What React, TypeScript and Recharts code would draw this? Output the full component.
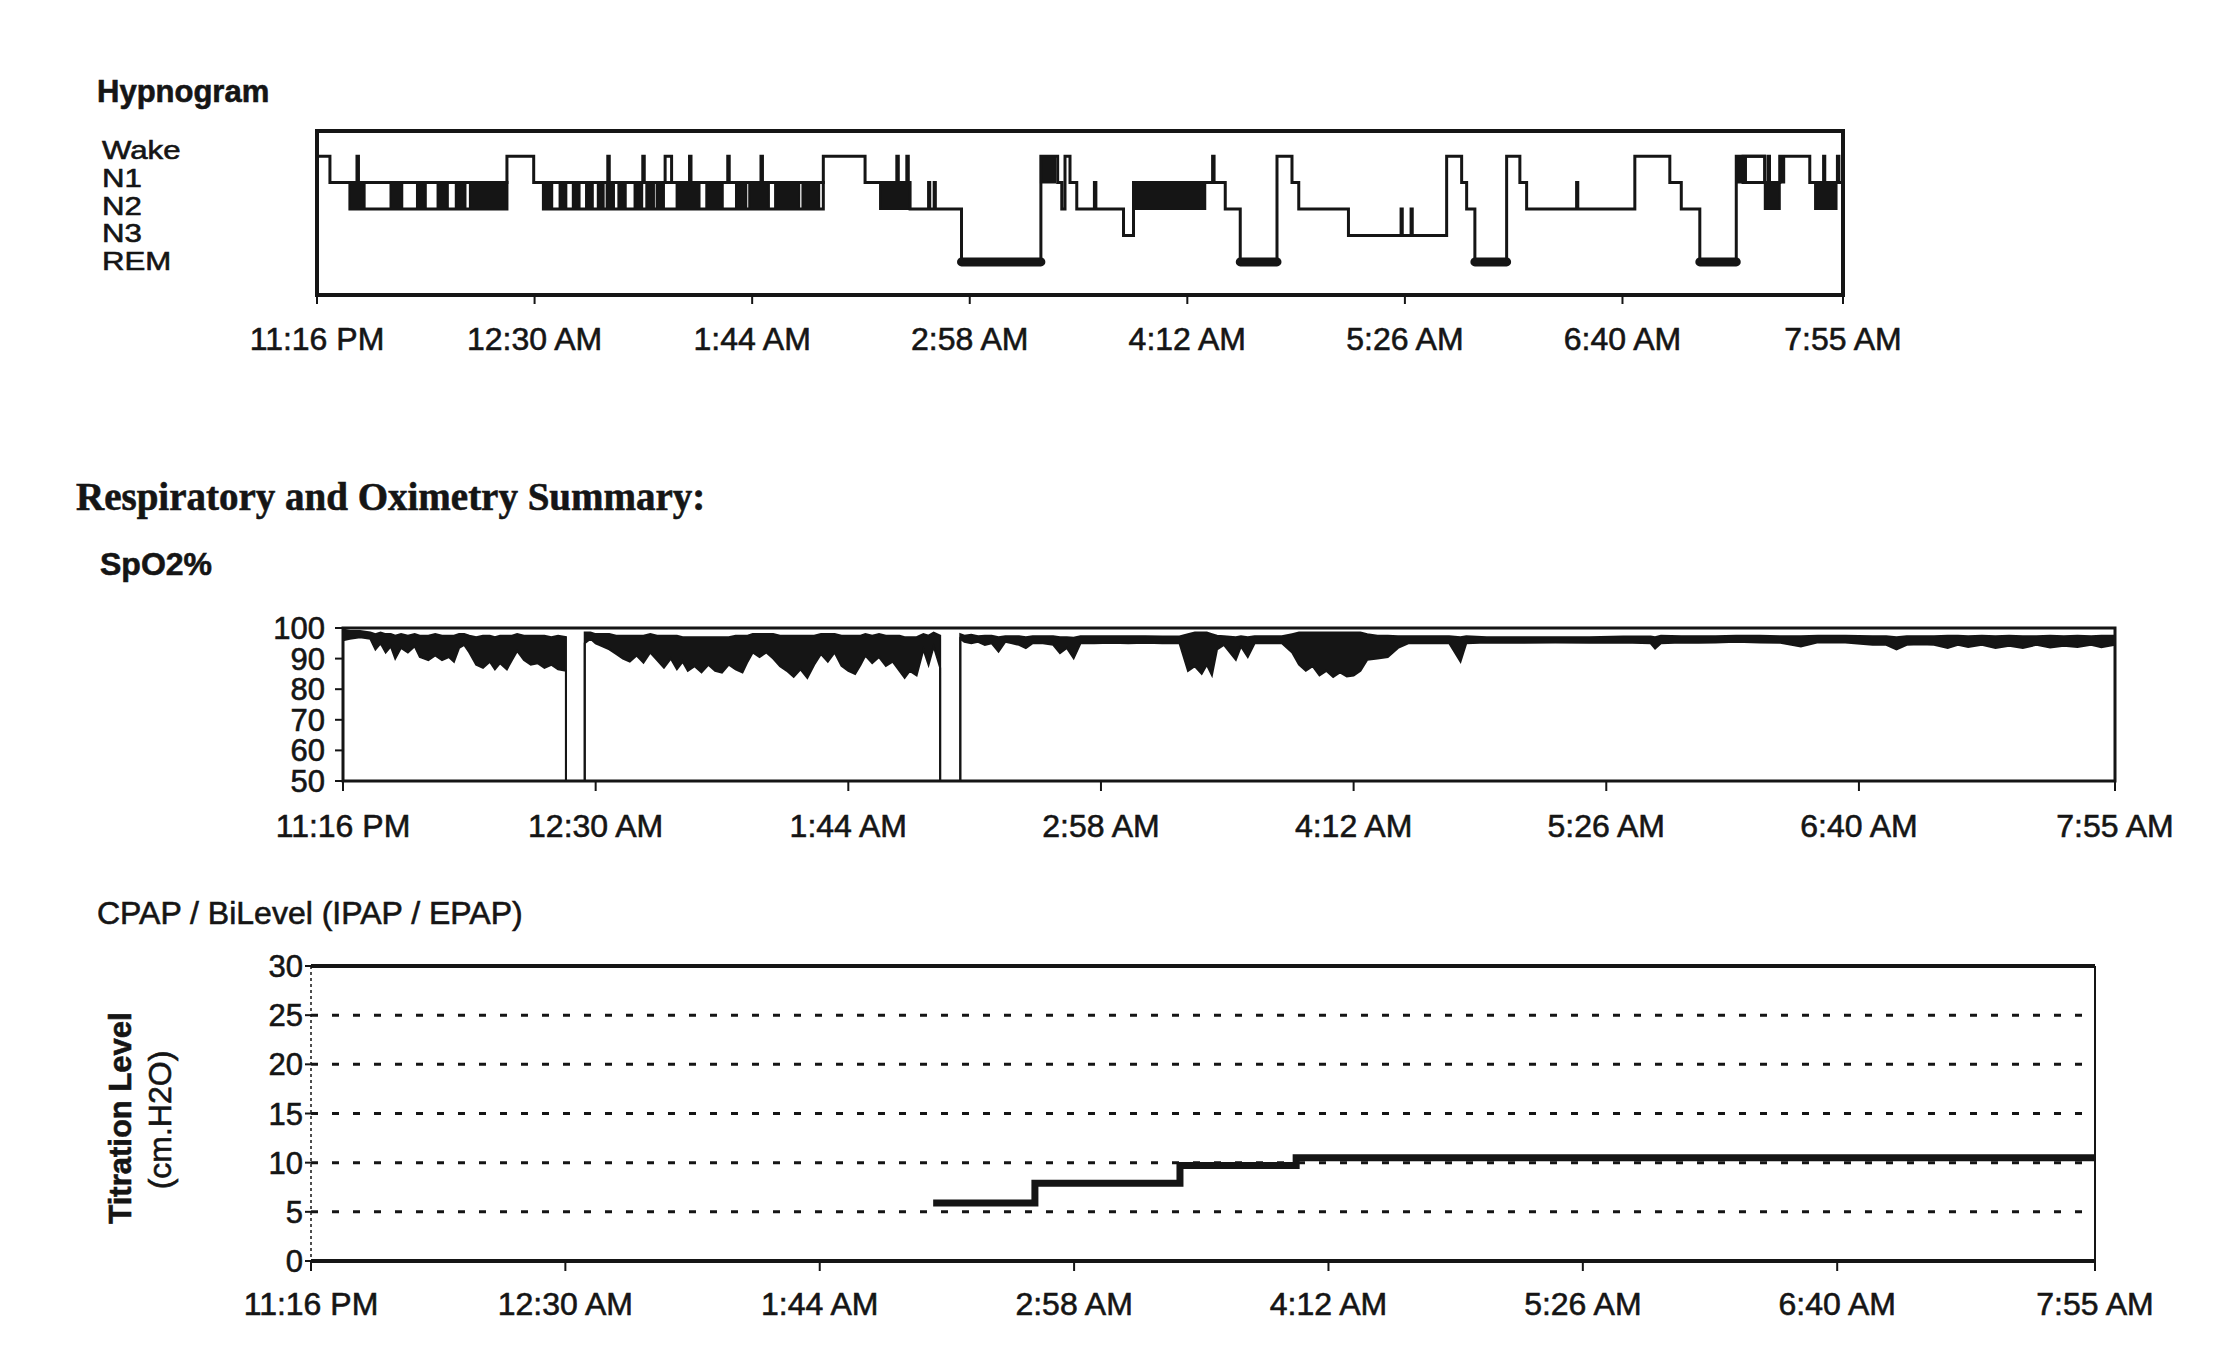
import React from 'react'
import {
  LineChart, ComposedChart, Line, Area, XAxis, YAxis, CartesianGrid, ReferenceArea, ReferenceLine,
} from 'recharts'

// time axis: minutes after 11:16 PM
const timeTicks = [0, 74, 148, 222, 296, 370, 444, 519]
const timeLabels = ['11:16 PM', '12:30 AM', '1:44 AM', '2:58 AM', '4:12 AM', '5:26 AM', '6:40 AM', '7:55 AM']

// stage index 0..4
const stageNames = ['REM', 'N3', 'N2', 'N1', 'Wake']

// [minute, stage] – stage holds until next entry
const hypnoSteps: [number, number][] = [
  [0, 4], [4.4, 3], [13.6, 4], [14.1, 3], [64.6, 4], [73.7, 3], [98.9, 4], [99.4, 3],
  [110.8, 4], [111.3, 3], [118.4, 4], [120.6, 3], [126.7, 4], [127.2, 3], [139.7, 4], [140.2, 3],
  [151.0, 4], [151.5, 3], [172.2, 4], [186.4, 3], [197.2, 4], [197.7, 3], [200.6, 4], [201.1, 3],
  [201.7, 2], [208.0, 3], [208.4, 2], [209.9, 3], [210.3, 2], [219.2, 0], [246.2, 4], [251.9, 3],
  [253.3, 2], [254.4, 4], [256.1, 3], [258.4, 2], [264.4, 3], [264.9, 2], [274.3, 1], [277.7, 3],
  [304.6, 4], [305.1, 3], [308.9, 2], [314.0, 0], [326.5, 4], [331.6, 3], [333.9, 2], [350.8, 1],
  [368.7, 2], [369.1, 1], [372.1, 2], [372.5, 1], [384.2, 4], [389.3, 3], [391.0, 2], [393.8, 0],
  [404.6, 4], [409.1, 3], [411.4, 2], [428.4, 3], [428.8, 2], [448.2, 4], [460.1, 3], [464.0, 2],
  [470.3, 0], [482.7, 4], [492.4, 3], [493.6, 4], [494.0, 3], [497.5, 4], [507.7, 3], [512.4, 4],
  [512.8, 3], [517.1, 4], [517.6, 3], [519, 3],
]

// rapid stage switching drawn as solid blocks [start, end, lowStage, highStage]
const denseBlocks: [number, number, number, number][] = [
  [11.2, 16.2, 2, 3], [25, 29, 2, 3], [34, 37, 2, 3], [41, 44.5, 2, 3], [47.2, 50.5, 2, 3],
  [52, 64.6, 2, 3], [77, 80, 2, 3], [82.5, 84.8, 2, 3], [87, 89.3, 2, 3], [91.5, 93.8, 2, 3],
  [95.5, 97.5, 2, 3], [98.5, 101, 2, 3], [102.5, 105, 2, 3], [108, 110.6, 2, 3], [112, 114.6, 2, 3],
  [115.5, 118, 2, 3], [122.3, 130.1, 2, 3], [132.4, 138, 2, 3], [142.5, 146, 2, 3], [147, 153.7, 2, 3],
  [155.8, 164, 2, 3], [165.1, 170.8, 2, 3], [191.5, 201.7, 2, 3], [246.2, 251, 3, 4], [277.7, 302.1, 2, 3],
  [482.7, 486, 3, 4], [492.4, 497.5, 2, 3], [497.5, 499, 3, 4], [509.5, 516.8, 2, 3],
]

// stretches where both stage edges show as lines
const hollowSpans: [number, number, number, number][] = [
  [11.2, 64.6, 2, 3], [77, 172.2, 2, 3], [485, 492.4, 3, 4],
]

// SpO2: [minute, low, high]; 50 = probe off
const spo2Readings: [number, number, number][] = [
  [0, 96, 99.5], [2, 96.5, 99], [5, 97, 99], [8, 96.5, 98.5], [9.5, 93, 98], [11, 95, 98.5],
  [12.5, 92, 98], [14, 94, 98], [15.3, 90, 97.5], [17, 93.5, 98], [19, 92, 97.5], [21, 94, 98],
  [22.5, 90.5, 97.5], [25, 89.5, 97.5], [27, 91, 98], [29, 89.5, 97.5], [31, 90.5, 97.5], [32.5, 89, 97.5],
  [34, 93.5, 98], [35.5, 94.5, 98], [37, 92, 97.5], [39, 88, 97], [41, 87, 97.5], [43, 89, 97.5],
  [44.5, 86.5, 97], [46, 88.5, 97.5], [48, 86.5, 97.5], [49.5, 89.5, 97.5], [51, 92.5, 98], [53, 89.5, 97.5],
  [55, 88, 97.5], [57, 88.5, 97.5], [59, 87, 97.5], [61, 88, 97], [63, 86.5, 97.5], [65.3, 86, 97],
  [65.3, 50, 50], [70.8, 50, 50],
  [70.8, 95, 98.5], [72.5, 96.5, 98.5], [74, 95, 98], [76, 94, 98], [78, 93, 98], [80, 91.5, 97.5],
  [82, 90, 97.5], [84, 89, 97.5], [86, 91, 97.5], [88, 88.7, 97.5], [90, 92, 98], [92, 89.5, 97.5],
  [94, 87, 97.5], [96, 90, 97.5], [97.8, 86.5, 97.5], [99.5, 89, 97], [101, 86, 97], [103, 87.5, 97],
  [105, 85.5, 97], [107, 88, 97], [109, 86, 97], [111, 85.4, 97], [113, 88, 97], [115, 86.5, 97.5],
  [117, 85.5, 97.5], [118.5, 89, 97.5], [120, 92, 98], [122, 90.5, 98], [124, 92, 98], [126, 90, 98],
  [128, 87.5, 97.5], [130, 86, 97.5], [132, 84, 97.5], [134, 86.5, 97.5], [136, 83.7, 97.5], [138, 88, 97.5],
  [140, 91.5, 98], [142, 89, 98], [144, 92, 98], [146, 87.6, 97.5], [148, 86, 97.5], [150, 85, 97.5],
  [151.6, 88, 97.5], [153, 91, 98], [155, 88.5, 97.5], [157, 90.5, 98], [159, 87.6, 97.5], [161, 89, 97.5],
  [163, 86, 97.5], [164.5, 83.7, 97], [166, 86, 97], [168, 84.5, 97], [170, 93, 98], [171.5, 88, 97.5],
  [173, 94, 98.5], [174.9, 87, 97.5],
  [174.9, 50, 50], [180.8, 50, 50],
  [180.8, 96.5, 98], [182, 95.5, 97.5], [184, 95, 97.8], [186, 95.5, 97.3], [188, 94.5, 97.5], [190, 95, 97.5],
  [192, 92.3, 97], [194, 95.5, 97.3], [196, 95, 97.3], [198, 94.5, 97.3], [200, 93.4, 97], [202, 95, 97.3],
  [205, 95, 97.3], [208, 94.5, 97.3], [210, 91.8, 97], [212, 93.5, 97], [214, 90.1, 96.8], [216, 95, 97.3],
  [220, 95, 97.3], [225, 95.2, 97.3], [230, 95, 97.3], [235, 95.2, 97.3], [240, 95, 97.2], [245, 95, 97.2],
  [247.5, 86, 98], [249.5, 87.5, 98.5], [251.5, 85, 98.5], [253, 88, 98.5], [254.5, 84.6, 98], [256, 93, 97.5],
  [258, 94.5, 97.3], [261.5, 89.6, 97], [263, 94, 97.3], [265, 90.5, 97], [267, 95, 97.3], [270, 95, 97.3],
  [275, 95, 97.3], [278, 92, 98], [280, 88, 98.5], [282, 86, 98.5], [284, 87.5, 98.5], [286, 84.5, 98.5],
  [288, 86, 98.5], [290, 84, 98.5], [292, 85.5, 98.5], [294, 84.2, 98.5], [296, 84.5, 98.5], [298, 86, 98.5],
  [300, 89.6, 98], [303, 90, 97.5], [306, 90.5, 97.5], [309, 93.5, 97.3], [312, 95, 97.3], [318, 95, 97.3],
  [324, 95, 97.3], [327.3, 89, 97], [329, 95, 97.3], [335, 95.3, 97], [345, 95.2, 97], [355, 95.3, 97],
  [365, 95.2, 97], [375, 95.3, 97.2], [383, 95, 97.2], [384.3, 93.3, 97], [386, 95, 97.5], [392, 95.3, 97.3],
  [397, 95.2, 97.3], [402, 95.3, 97.3], [408, 95.5, 97.5], [415, 95.3, 97.5], [421, 95.2, 97.3], [427, 94, 97.3],
  [432, 95.3, 97.5], [440, 95.3, 97.5], [448, 94.5, 97.3], [452, 94.5, 97.3], [455, 93, 97], [458, 94.5, 97.3],
  [462, 94.7, 97.3], [466, 94.5, 97.3], [470, 93.5, 97.5], [473, 94.5, 97.5], [476, 93.8, 97.3], [480, 94.5, 97.5],
  [484, 93.5, 97.3], [488, 94.2, 97.5], [492, 93.5, 97.3], [496, 94.5, 97.3], [500, 93.6, 97.5], [504, 94.2, 97.3],
  [508, 93.8, 97.5], [512, 94.5, 97.3], [515, 93.7, 97.5], [519, 94.5, 97.5],
]
const spo2Ticks = [50, 60, 70, 80, 90, 100]

// CPAP pressure steps: minute, cm H2O
const cpapMinutes = [181, 210.6, 252.8, 286.6, 519]
const cpapLevels = [5.9, 7.9, 9.7, 10.5, 10.5]
const cpapTicks = [0, 5, 10, 15, 20, 25, 30]

const PAGE_W = 2237
const PAGE_H = 1367
const FONT = '"Liberation Sans", Arial, sans-serif'
const SERIF = '"Liberation Serif", "Times New Roman", serif'
const ink = '#151515'

const TimeTick = ({ x, payload, labelY }: any) => (
  <text x={x} y={labelY} textAnchor="middle" fontFamily={FONT} fontSize={32} fill={ink} stroke={ink} strokeWidth={0.6}>
    {timeLabels[timeTicks.indexOf(payload.value)]}
  </text>
)

// stage names sit in a tight column left of the plot
const StageTick = ({ payload }: any) => (
  <text transform={`translate(102, ${59 + (4 - payload.value) * 27.8}) scale(1.2, 1)`} textAnchor="start"
    fontFamily={FONT} fontSize={26} fill={ink} stroke={ink} strokeWidth={0.6}>
    {stageNames[payload.value]}
  </text>
)

const ValueTick = ({ x, y, payload, shift = 0 }: any) => (
  <text x={x - shift} y={y + 11} textAnchor="end" fontFamily={FONT} fontSize={31} fill={ink} stroke={ink} strokeWidth={0.6}>
    {payload.value}
  </text>
)

function Hypnogram() {
  const data = hypnoSteps.map(([t, s]) => ({ t, stage: s }))
  const remSpans = hypnoSteps.flatMap(([t, s], i) => (s === 0 ? [[t, hypnoSteps[i + 1][0]]] : []))
  return (
    <LineChart width={PAGE_W} height={275} data={data} margin={{ top: 31, right: 394, bottom: 0, left: 0 }}>
      <XAxis dataKey="t" type="number" domain={[0, 519]} ticks={timeTicks} interval={0} height={80}
        axisLine={false} tickSize={9} tickLine={{ stroke: ink, strokeWidth: 2 }}
        tick={(p: any) => <TimeTick {...p} labelY={250} />} />
      <YAxis type="number" domain={[-1.25, 4.95]} ticks={[0, 1, 2, 3, 4]} width={317}
        axisLine={false} tickLine={false} tick={(p: any) => <StageTick {...p} />} />
      <ReferenceArea x1={0} x2={519} y1={-1.25} y2={4.95} fill="none" stroke={ink} strokeWidth={4} />
      {hollowSpans.map(([a, b, lo, hi], i) => (
        <ReferenceArea key={`h${i}`} x1={a} x2={b} y1={lo} y2={hi} fill="none" stroke={ink} strokeWidth={3} />
      ))}
      {denseBlocks.map(([a, b, lo, hi], i) => (
        <ReferenceArea key={`d${i}`} x1={a} x2={b} y1={lo} y2={hi} fill={ink} fillOpacity={1} stroke={ink} strokeWidth={2} />
      ))}
      {remSpans.map(([a, b], i) => (
        <ReferenceLine key={`r${i}`} segment={[{ x: a, y: 0 }, { x: b, y: 0 }]} stroke={ink} strokeWidth={9} strokeLinecap="round" />
      ))}
      <Line type="stepAfter" dataKey="stage" stroke={ink} strokeWidth={3} dot={false} activeDot={false} isAnimationActive={false} />
    </LineChart>
  )
}

function Oximetry() {
  const data = spo2Readings.map(([t, lo, hi]) => ({ t, band: [lo, hi] }))
  return (
    <ComposedChart width={PAGE_W} height={261} data={data} margin={{ top: 28, right: 122, bottom: 0, left: 0 }}>
      <XAxis dataKey="t" type="number" domain={[0, 519]} ticks={timeTicks} interval={0} height={80}
        axisLine={false} tickSize={10} tickLine={{ stroke: ink, strokeWidth: 2 }}
        tick={(p: any) => <TimeTick {...p} labelY={237} />} />
      <YAxis type="number" domain={[50, 100]} ticks={spo2Ticks} width={343} interval={0}
        axisLine={false} tickSize={8} tickLine={{ stroke: ink, strokeWidth: 2 }}
        tick={(p: any) => <ValueTick {...p} shift={8} />} />
      <ReferenceArea x1={0} x2={519} y1={50} y2={100} fill="none" stroke={ink} strokeWidth={3} />
      <Area type="linear" dataKey="band" stroke={ink} strokeWidth={2} fill={ink} fillOpacity={1}
        dot={false} activeDot={false} isAnimationActive={false} />
    </ComposedChart>
  )
}

function Titration() {
  const data = cpapMinutes.map((t, i) => ({ t, level: cpapLevels[i] }))
  return (
    <LineChart width={PAGE_W} height={401} data={data} margin={{ top: 26, right: 142, bottom: 0, left: 0 }}>
      <CartesianGrid vertical={false} stroke={ink} strokeDasharray="7 14" strokeWidth={3} />
      <XAxis dataKey="t" type="number" domain={[0, 519]} ticks={timeTicks} interval={0} height={80}
        axisLine={{ stroke: ink, strokeWidth: 4 }} tickSize={10} tickLine={{ stroke: ink, strokeWidth: 2 }}
        tick={(p: any) => <TimeTick {...p} labelY={375} />} />
      <YAxis type="number" domain={[0, 30]} ticks={cpapTicks} width={311} interval={0}
        axisLine={{ stroke: ink, strokeWidth: 1.5, strokeDasharray: '3 3' }} tickSize={6}
        tickLine={{ stroke: ink, strokeWidth: 2 }} tick={(p: any) => <ValueTick {...p} />} />
      <ReferenceLine y={30} stroke={ink} strokeWidth={4} />
      <ReferenceLine x={519} stroke={ink} strokeWidth={2} />
      <Line type="stepAfter" dataKey="level" stroke={ink} strokeWidth={7} dot={false} activeDot={false} isAnimationActive={false} />
    </LineChart>
  )
}

export default function App() {
  return (
    <div style={{ position: 'absolute', left: 0, top: 0, width: PAGE_W, height: PAGE_H, background: '#fff', overflow: 'hidden' }}>
      <svg width={PAGE_W} height={PAGE_H} style={{ position: 'absolute', left: 0, top: 0 }}>
        <g fill={ink} stroke={ink} strokeWidth={0.6}>
          <text x={97} y={102} fontFamily={FONT} fontWeight="bold" fontSize={31}>Hypnogram</text>
          <text x={76} y={510} fontFamily={SERIF} fontWeight="bold" fontSize={39}>Respiratory and Oximetry Summary:</text>
          <text x={100} y={575} fontFamily={FONT} fontWeight="bold" fontSize={32}>SpO2%</text>
          <text x={97} y={924} fontFamily={FONT} fontSize={32}>CPAP / BiLevel (IPAP / EPAP)</text>
          <text transform="translate(131,1118) rotate(-90)" textAnchor="middle" fontFamily={FONT} fontWeight="bold" fontSize={31}>Titration Level</text>
          <text transform="translate(171,1120) rotate(-90)" textAnchor="middle" fontFamily={FONT} fontSize={32}>(cm.H2O)</text>
        </g>
      </svg>
      <div style={{ position: 'absolute', left: 0, top: 100 }}>
        <Hypnogram />
      </div>
      <div style={{ position: 'absolute', left: 0, top: 600 }}>
        <Oximetry />
      </div>
      <div style={{ position: 'absolute', left: 0, top: 940 }}>
        <Titration />
      </div>
    </div>
  )
}
